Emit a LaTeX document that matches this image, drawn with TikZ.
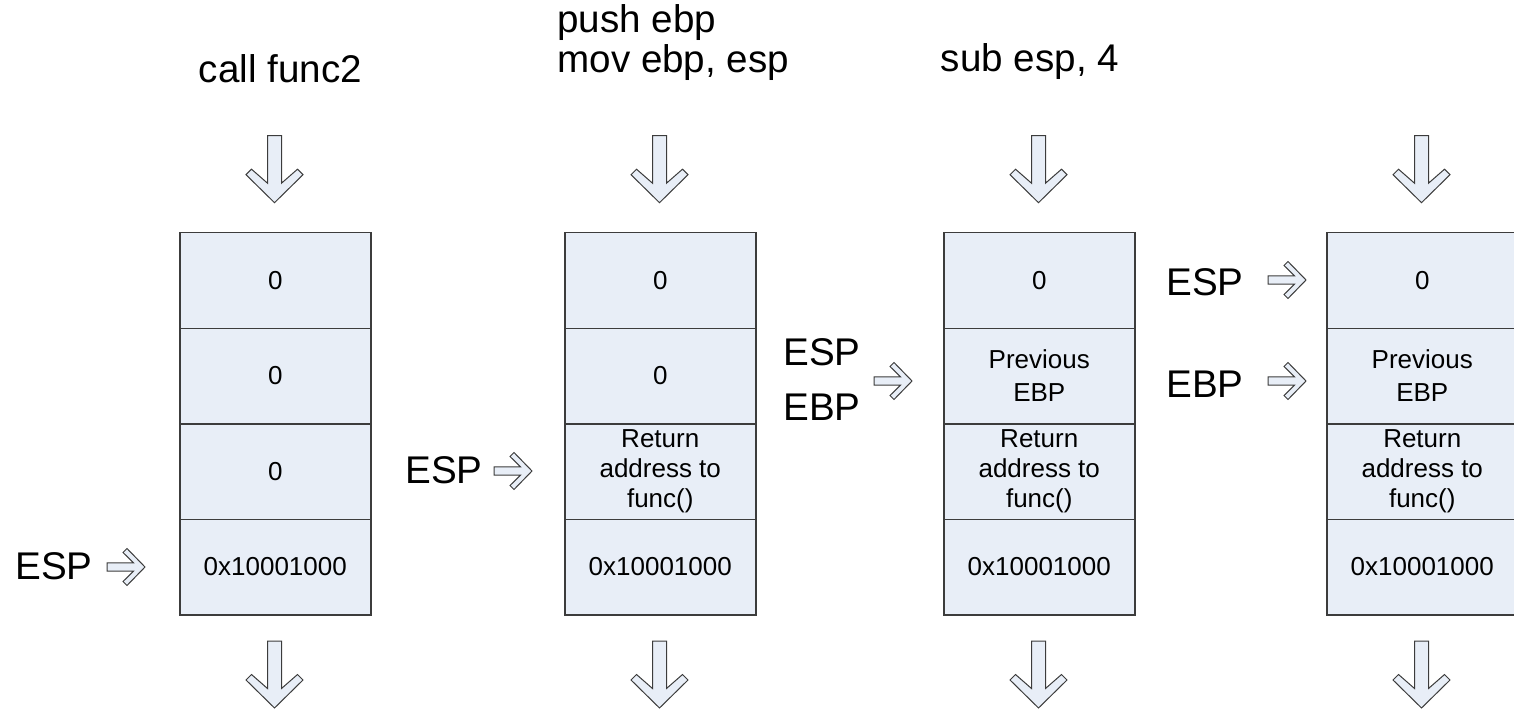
\documentclass[tikz,border=0pt]{standalone}
\usepackage{fontspec}
\setmainfont{Liberation Sans}
\definecolor{cellfill}{RGB}{232,238,247}
\definecolor{cellline}{RGB}{60,60,60}
\begin{document}
\begin{tikzpicture}[x=0.5pt,y=-0.5pt,
  cell/.style={draw=cellline, fill=cellfill, line width=0.75pt,
    minimum width=95.5pt, minimum height=47.75pt, inner sep=0pt,
    anchor=north west, align=center, font=\fontsize{13}{15}\selectfont},
  big/.style={inner sep=0pt, font=\fontsize{19.3}{23}\selectfont},
  blockarrow/.style={draw=cellline, fill=cellfill, line width=0.5pt, line join=miter},
  downarrow/.pic={\path[blockarrow] (0,0) -- (-28.5,-28) -- (-23,-33.5) -- (-7,-19.5)
      -- (-7,-67) -- (7,-67) -- (7,-19.5) -- (23,-33.5) -- (28.5,-28) -- cycle;},
  ptrarrow/.pic={\path[blockarrow] (0,0) -- (-18,-18.5) -- (-22,-14.5) -- (-11.5,-4.2)
      -- (-38,-4.2) -- (-38,4.2) -- (-11.5,4.2) -- (-22,14.5) -- (-18,18.5) -- cycle;}]
\useasboundingbox (0,0) rectangle (1514,711);
\begin{scope}
\clip (0,0) rectangle (1514,711);

% instructions above each stack
\node[big, anchor=base] (callT) at (280.5,83) {call func2};
\node[big, anchor=base west] (pushT) at (557,33) {push ebp};
\node[big, anchor=base west] (movT) at (557,73) {mov ebp, esp};
\node[big, anchor=base] (subT) at (1030,72) {sub esp, 4};

% stack 1
\node[cell] (a1) at (179,232) {0};
\node[cell] (a2) at (179,327.5) {0};
\node[cell] (a3) at (179,423) {0};
\node[cell] (a4) at (179,518.5) {0x10001000};

% stack 2
\node[cell] (b1) at (564,232) {0};
\node[cell] (b2) at (564,327.5) {0};
\node[cell] (b3) at (564,423) {Return\\address to\\func()};
\node[cell] (b4) at (564,518.5) {0x10001000};

% stack 3
\node[cell] (c1) at (943,232) {0};
\node[cell, font=\fontsize{13}{16.5}\selectfont] (c2) at (943,327.5) {Previous\\EBP};
\node[cell] (c3) at (943,423) {Return\\address to\\func()};
\node[cell] (c4) at (943,518.5) {0x10001000};

% stack 4
\node[cell] (d1) at (1326,232) {0};
\node[cell, font=\fontsize{13}{16.5}\selectfont] (d2) at (1326,327.5) {Previous\\EBP};
\node[cell] (d3) at (1326,423) {Return\\address to\\func()};
\node[cell] (d4) at (1326,518.5) {0x10001000};

% flow arrows above and below the stacks
\foreach \n/\x in {a/274.5, b/659.5, c/1038.5, d/1421.5} {
  \pic (\n top) at (\x,202.7) {downarrow};
  \pic (\n bot) at (\x,708) {downarrow};
}

% register pointers
\node[big, anchor=base west] (espA) at (15,579) {ESP};
\pic (pA) at (145,567) {ptrarrow};

\node[big, anchor=base west] (espB) at (405,483) {ESP};
\pic (pB) at (532,471) {ptrarrow};

\node[big, anchor=base west] (espC) at (783,365) {ESP};
\node[big, anchor=base west] (ebpC) at (783,420) {EBP};
\pic (pC) at (912,381) {ptrarrow};

\node[big, anchor=base west] (espD) at (1166,295) {ESP};
\pic (pD1) at (1306,280) {ptrarrow};
\node[big, anchor=base west] (ebpD) at (1166,397) {EBP};
\pic (pD2) at (1306,381) {ptrarrow};
\end{scope}
\end{tikzpicture}
\end{document}
